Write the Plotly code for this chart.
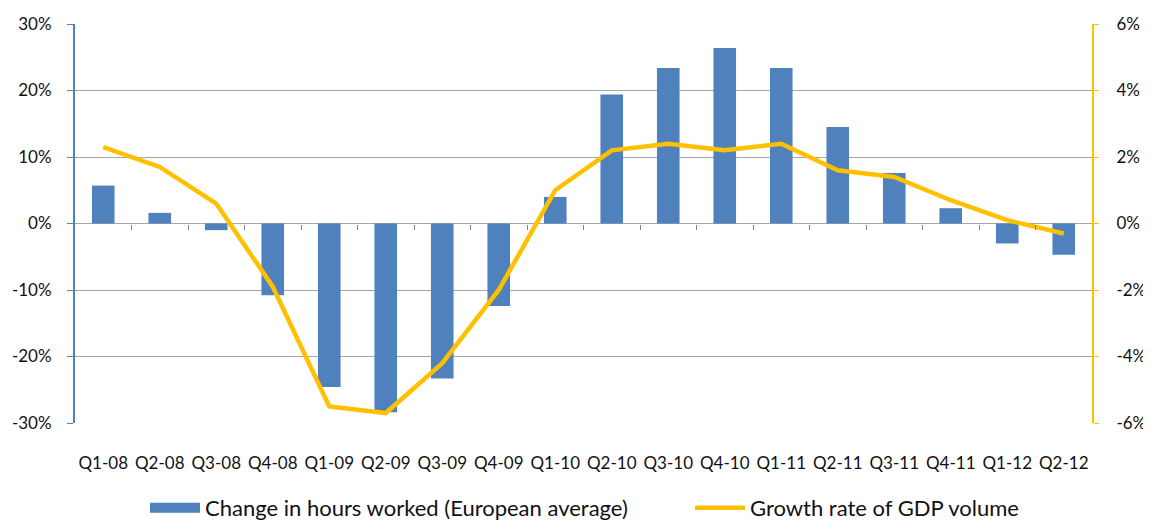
import plotly.graph_objects as go

quarters = ["Q1-08", "Q2-08", "Q3-08", "Q4-08", "Q1-09", "Q2-09", "Q3-09", "Q4-09",
            "Q1-10", "Q2-10", "Q3-10", "Q4-10", "Q1-11", "Q2-11", "Q3-11", "Q4-11",
            "Q1-12", "Q2-12"]

# change in hours worked, % (left axis)
hours_change = [5.7, 1.6, -1.0, -10.8, -24.6, -28.4, -23.3, -12.4,
                4.0, 19.4, 23.4, 26.4, 23.4, 14.5, 7.6, 2.3, -3.0, -4.7]

# GDP volume growth, % (right axis)
gdp_growth = [2.3, 1.7, 0.6, -1.9, -5.5, -5.7, -4.2, -2.0,
              1.0, 2.2, 2.4, 2.2, 2.4, 1.6, 1.4, 0.7, 0.1, -0.3]

left_ticks = [-30, -20, -10, 0, 10, 20, 30]
left_labels = ["-30%", "-20%", "-10%", "0%", "10%", "20%", "30%"]
right_ticks = [-6, -4, -2, 0, 2, 4, 6]
right_labels = ["-6%", "-4%", "-2%", "0%", "2%", "4%", "6%"]

bar_name = "Change in hours worked (European average)"
line_name = "Growth rate of GDP volume"

blue = "#4F81BD"
gold = "#FFC000"
grid = "#A6A6A6"
text_col = "#111111"
fam = "Lato, Open Sans, sans-serif"

# page body has an 8px margin, so the figure is a bit smaller than the window
W, H = 1143, 521

fig = go.Figure()

fig.add_trace(go.Bar(
    x=quarters, y=hours_change, name=bar_name, showlegend=False,
    marker=dict(color=blue, line=dict(width=0)), width=0.4
))
fig.add_trace(go.Scatter(
    x=quarters, y=gdp_growth, name=line_name, yaxis="y2", legend="legend2",
    mode="lines", line=dict(color=gold, width=4.5)
))
# legend stand-in for the bars (wide block like the original)
fig.add_trace(go.Scatter(
    x=[None], y=[None], name=bar_name, mode="lines",
    line=dict(color=blue, width=13), hoverinfo="skip"
))
# helper so the tick axis on the zero line gets drawn
fig.add_trace(go.Scatter(x=[], y=[], xaxis="x2", showlegend=False, hoverinfo="skip"))

legend_font = dict(family=fam, size=22, color=text_col)

fig.update_layout(
    width=W, height=H,
    margin=dict(l=67, r=59, t=16, b=106),
    paper_bgcolor="white", plot_bgcolor="white",
    font=dict(family=fam, size=17, color=text_col),
    showlegend=True,
    legend=dict(orientation="h", xref="container", yref="container",
                x=137 / W, xanchor="left", y=0, yanchor="bottom",
                itemwidth=50, font=legend_font, bgcolor="rgba(0,0,0,0)"),
    legend2=dict(orientation="h", xref="container", yref="container",
                 x=682 / W, xanchor="left", y=0, yanchor="bottom",
                 itemwidth=50, font=legend_font, bgcolor="rgba(0,0,0,0)"),
    xaxis=dict(type="category", range=[-0.5, 17.5], showgrid=False, showline=False,
               ticks="", zeroline=False, ticklabelstandoff=28, automargin=False),
    xaxis2=dict(overlaying="x", anchor="free", position=0.5, range=[-0.5, 17.5],
                tickvals=[i + 0.5 for i in range(17)], showticklabels=False,
                ticks="outside", ticklen=5, tickcolor="#808080", showgrid=False,
                showline=False, zeroline=False, automargin=False),
    yaxis=dict(range=[-30, 30], tickvals=left_ticks, ticktext=left_labels,
               showgrid=True, gridcolor=grid, gridwidth=1, zeroline=True,
               zerolinecolor=grid, zerolinewidth=1, showline=True, linecolor=blue,
               linewidth=2, ticks="outside", ticklen=6, tickcolor=blue,
               ticklabelstandoff=12, automargin=False),
    yaxis2=dict(range=[-6, 6], tickvals=right_ticks, ticktext=right_labels,
                overlaying="y", side="right", showgrid=False, zeroline=False,
                showline=True, linecolor=gold, linewidth=2, ticks="outside",
                ticklen=5, tickcolor=gold, ticklabelstandoff=14, automargin=False),
)

fig.write_html("out.html")
